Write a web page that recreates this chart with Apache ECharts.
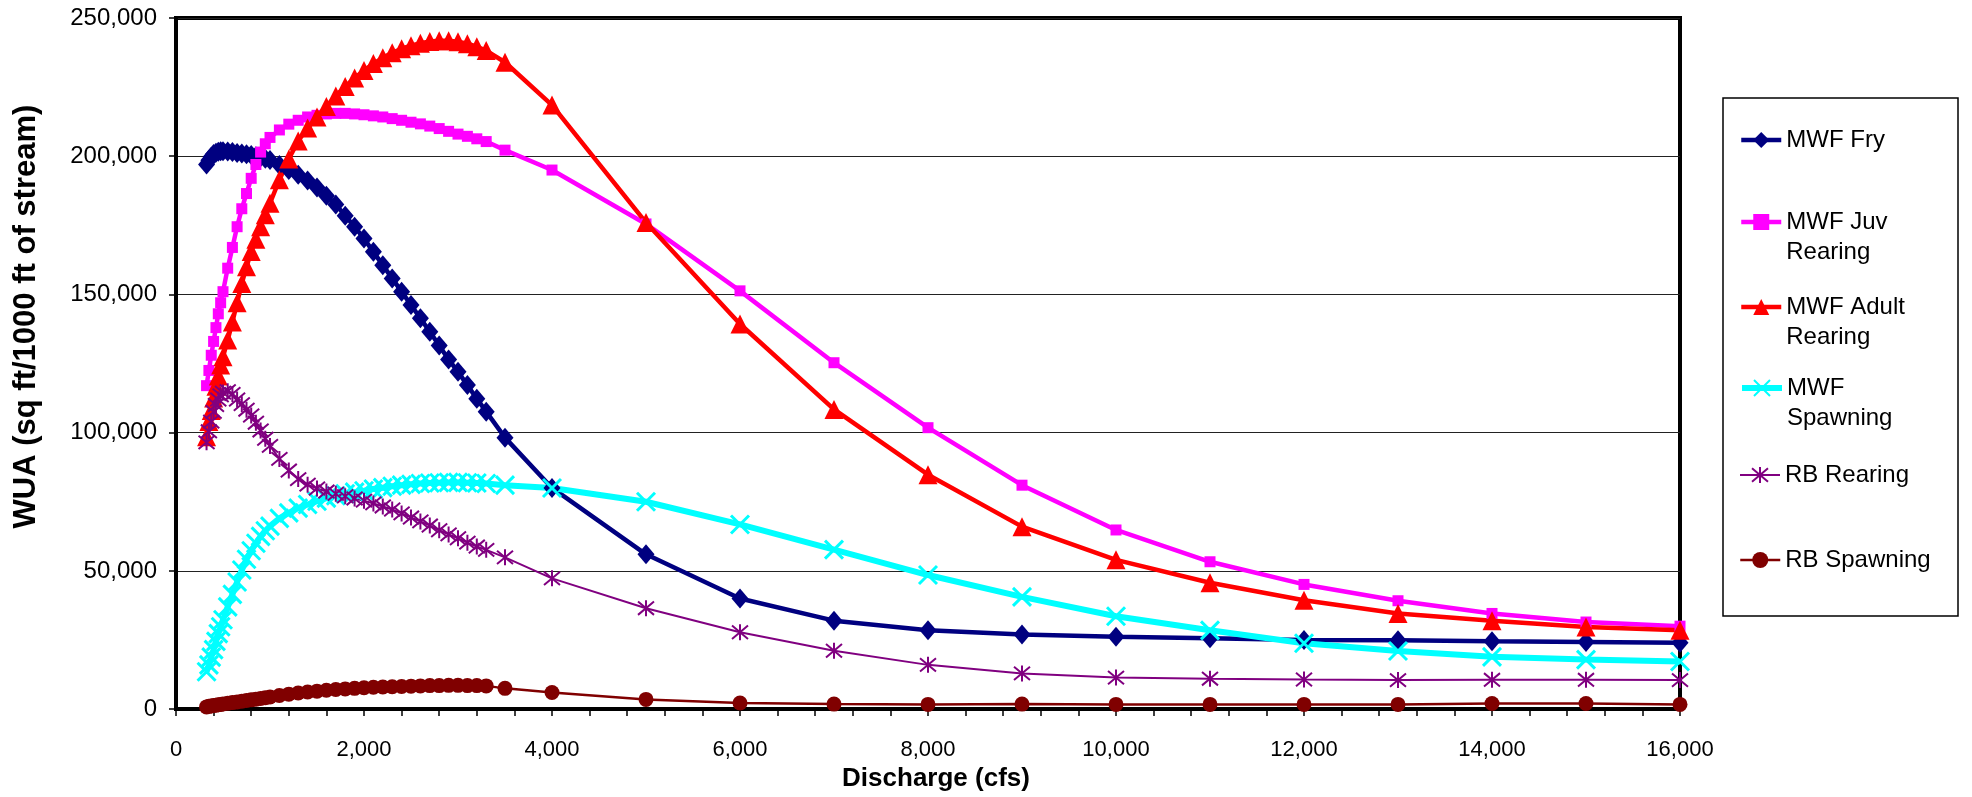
<!DOCTYPE html>
<html>
<head>
<meta charset="utf-8">
<title>WUA vs Discharge</title>
<script src="https://cdn.jsdelivr.net/npm/echarts@6/dist/echarts.min.js"></script>
<style>
  html, body { margin: 0; padding: 0; background: #fff; }
  #chart { width: 1972px; height: 797px; }
</style>
</head>
<body>
<div id="chart"></div>
<script>
// discharge (cfs)
const discharge = [325, 350, 375, 400, 425, 450, 475, 500,
  550, 600, 650, 700, 750, 800, 850, 900, 950, 1000,
  1100, 1200, 1300, 1400, 1500, 1600, 1700, 1800, 1900, 2000, 2100, 2200,
  2300, 2400, 2500, 2600, 2700, 2800, 2900, 3000, 3100, 3200, 3300,
  3500, 4000, 5000, 6000, 7000, 8000, 9000, 10000, 11000, 12000, 13000, 14000, 15000, 16000]

// WUA (sq ft/1000 ft of stream)
const mwfFry = [197000, 198500, 199800, 200800, 201300, 201600, 201800, 201800,
  201700, 201500, 201200, 201000, 200700, 200400, 200000, 199600, 199100, 198600,
  196800, 195000, 193300, 191200, 188700, 185700, 182500, 178500, 174500, 170200, 165400, 160600,
  155800, 151000, 146200, 141400, 136500, 131500, 126500, 122000, 117200, 112300, 107600,
  98200, 80000, 56000, 40000, 32000, 28500, 27000, 26200, 25600, 25000, 24900, 24500, 24300, 24000]

const mwfJuv = [117000, 122500, 128000, 133000, 138000, 143000, 147000, 151000,
  159500, 167000, 174500, 181000, 186500, 192000, 197000, 201500, 204500, 206800,
  209500, 211600, 213000, 214200, 214800, 215300, 215500, 215500, 215300, 215000, 214600, 214200,
  213600, 213000, 212300, 211700, 210900, 210000, 209000, 208000, 207200, 206300, 205300,
  202200, 195000, 175500, 151300, 125300, 101800, 81000, 64800, 53300, 45100, 39200, 34600, 31500, 30000]

const mwfAdult = [98500, 104000, 108000, 112500, 116800, 120500, 124500, 127500,
  133500, 140000, 147000, 154000, 160000, 165500, 170000, 174500, 178800, 183000,
  191500, 199000, 205500, 210200, 214200, 218000, 221800, 225200, 228300, 231000, 233500, 235600,
  237400, 238900, 240000, 240900, 241500, 241800, 241800, 241400, 240700, 239600, 238200,
  234000, 218500, 176000, 139300, 108400, 84800, 66000, 54000, 45700, 39400, 34600, 32000, 29700, 28500]

const mwfSpawning = [13500, 16000, 18800, 21500, 24500, 27300, 29800, 32300,
  37000, 41500, 46000, 50300, 54200, 57300, 60000, 62500, 64500, 66200,
  69000, 71000, 72700, 74000, 75200, 76300, 77200, 77900, 78500, 79000, 79600, 80100,
  80600, 81000, 81300, 81600, 81800, 81900, 82000, 82000, 81900, 81800, 81600,
  81000, 80000, 75000, 66800, 57700, 48500, 40600, 33600, 28500, 23800, 21000, 18900, 17900, 17200]

const rbRearing = [96500, 100500, 104000, 107500, 110000, 112000, 113500, 114500,
  115000, 114000, 112000, 110300, 108300, 106200, 103600, 100800, 97800, 95200,
  90500, 86300, 83200, 81200, 79800, 78700, 77900, 77000, 76200, 75400, 74400, 73300,
  72200, 70800, 69300, 67900, 66400, 64700, 63200, 61800, 60200, 58800, 57600,
  54900, 47300, 36500, 27800, 21100, 16000, 12900, 11400, 11000, 10700, 10500, 10600, 10600, 10500]

const rbSpawning = [800, 1000, 1100, 1300, 1400, 1550, 1700, 1850,
  2100, 2350, 2600, 2850, 3100, 3350, 3600, 3850, 4100, 4400,
  4900, 5400, 5800, 6200, 6500, 6800, 7100, 7300, 7500, 7700, 7900, 8000,
  8100, 8200, 8300, 8400, 8500, 8500, 8600, 8600, 8500, 8500, 8400,
  7500, 6000, 3500, 2200, 1800, 1700, 1800, 1700, 1700, 1700, 1700, 2000, 2000, 1700]

const seriesNames = ['MWF Fry', 'MWF Juv Rearing', 'MWF Adult Rearing', 'MWF Spawning', 'RB Rearing', 'RB Spawning']
const legendLabels = ['MWF Fry', ' \nMWF Juv\nRearing', ' \nMWF Adult\nRearing', ' \nMWF\nSpawning', 'RB Rearing', 'RB Spawning']

const FONT = '"Liberation Sans", Arial, sans-serif'
const fmt = v => Number(v).toLocaleString('en-US')
const pairs = ys => discharge.map((x, i) => [x, ys[i]])

// x 标记和星号标记
const xMark = 'path://M0,0L10,10M10,0L0,10'
const starMark = 'path://M0,0L10,10M10,0L0,10M5,-1L5,11'

const colors = ['#000080', '#FF00FF', '#FF0000', '#00FFFF', '#800080', '#800000']
const widths = [4.5, 4.5, 4.5, 6, 2, 2.5]

const lineSeries = (i, data, symbol, size, stroke) => ({
  name: seriesNames[i],
  type: 'line',
  data: pairs(data),
  symbol,
  symbolSize: size,
  lineStyle: { color: colors[i], width: widths[i] },
  itemStyle: stroke
    ? { color: colors[i], borderColor: colors[i], borderWidth: stroke }
    : { color: colors[i], borderWidth: 0 },
  emphasis: { disabled: true }
})

// 图例：每项单独放，外框用 graphic 画
const legendRows = [140, 222, 307, 388, 475, 560]
const legends = seriesNames.map((name, i) => {
  const multi = legendLabels[i].indexOf('\n') >= 0
  return {
    data: [name],
    left: 1739,
    top: legendRows[i] - (multi ? 45 : 15),
    orient: 'vertical',
    padding: 0,
    itemWidth: 40,
    itemHeight: 20,
    selectedMode: false,
    lineStyle: { color: colors[i], width: widths[i] },
    formatter: () => legendLabels[i],
    textStyle: { fontFamily: FONT, fontSize: 24, color: '#000', lineHeight: 30 }
  }
})

const chart = echarts.init(document.getElementById('chart'), null, { renderer: 'canvas' })

const option = {
  animation: false,
  backgroundColor: '#fff',
  grid: {
    left: 176, top: 18, width: 1504, height: 693,
    show: true, borderColor: '#000', borderWidth: 4, backgroundColor: 'transparent'
  },
  legend: legends,
  graphic: [{
    type: 'rect',
    z: -1,
    shape: { x: 1723, y: 98, width: 235, height: 518 },
    style: { fill: '#fff', stroke: '#000', lineWidth: 1.5 }
  }],
  xAxis: {
    type: 'value',
    min: 0, max: 16000, interval: 2000,
    name: 'Discharge (cfs)',
    nameLocation: 'middle',
    nameGap: 56,
    nameTextStyle: { fontFamily: FONT, fontSize: 26, fontWeight: 'bold', color: '#000', padding: [0, 0, 0, 16] },
    axisLine: { show: true, lineStyle: { color: '#000', width: 4 } },
    axisTick: { show: true, inside: false, length: 7, lineStyle: { color: '#000', width: 1.5 } },
    minorTick: { show: true, splitNumber: 5, length: 7, lineStyle: { color: '#000', width: 1.5 } },
    splitLine: { show: false },
    axisLabel: { margin: 30, fontFamily: FONT, fontSize: 22, color: '#000', formatter: fmt }
  },
  yAxis: {
    type: 'value',
    min: 0, max: 250000, interval: 50000,
    name: 'WUA (sq ft/1000 ft of stream)',
    nameLocation: 'middle',
    nameGap: 134,
    nameTextStyle: { fontFamily: FONT, fontSize: 31, fontWeight: 'bold', color: '#000', padding: [0, 0, 0, 94] },
    axisLine: { show: true, lineStyle: { color: '#000', width: 4 } },
    axisTick: { show: true, inside: false, length: 7, lineStyle: { color: '#000', width: 1.5 } },
    splitLine: { show: true, lineStyle: { color: '#222', width: 1 } },
    axisLabel: { margin: 19, fontFamily: FONT, fontSize: 24, color: '#000', formatter: fmt }
  },
  series: [
    lineSeries(0, mwfFry, 'diamond', [17, 20]),
    lineSeries(1, mwfJuv, 'rect', 11),
    lineSeries(2, mwfAdult, 'triangle', [19, 19]),
    lineSeries(3, mwfSpawning, xMark, 18, 3),
    lineSeries(4, rbRearing, starMark, 16, 2),
    lineSeries(5, rbSpawning, 'circle', 15)
  ]
}

chart.setOption(option)
</script>
</body>
</html>
